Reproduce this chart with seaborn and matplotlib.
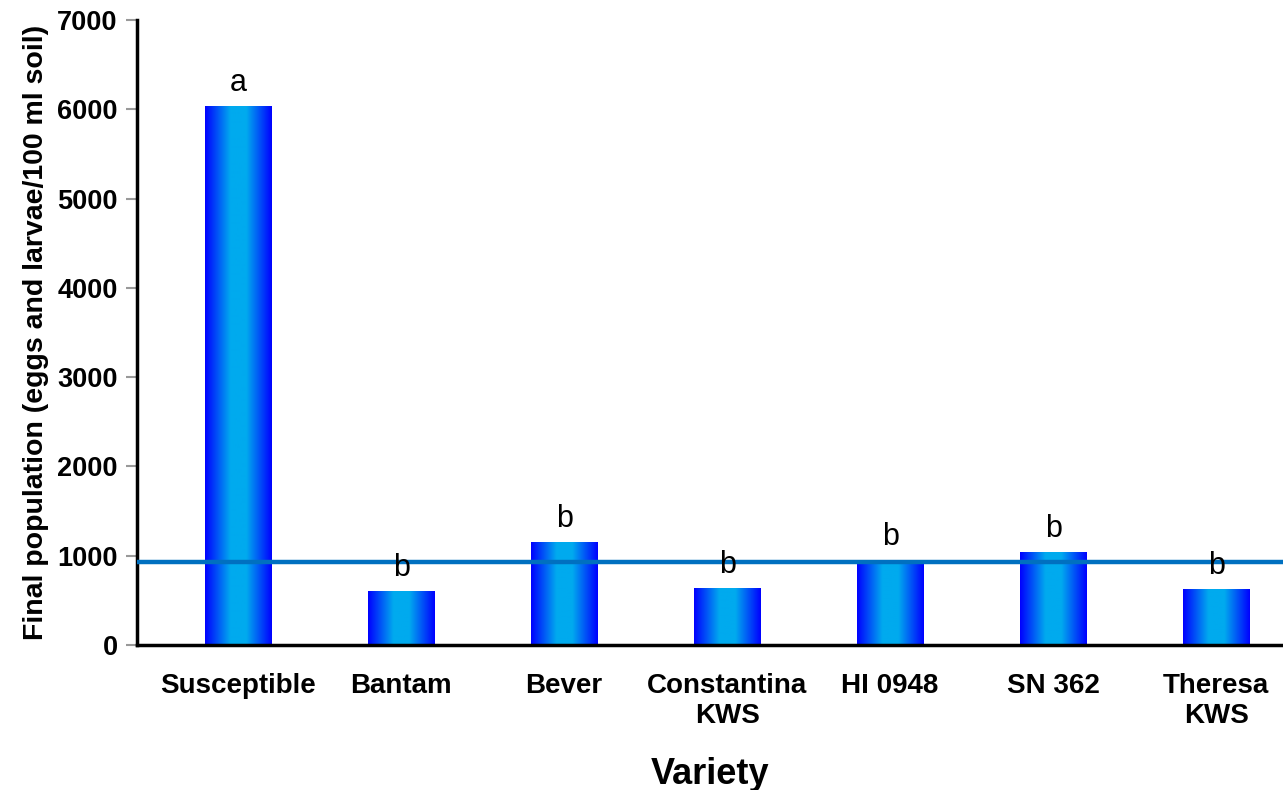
import matplotlib
matplotlib.use("Agg")
import matplotlib.pyplot as plt
from matplotlib.colors import LinearSegmentedColormap
import numpy as np
import pandas as pd
import seaborn as sns

varieties = ["Susceptible", "Bantam", "Bever", "Constantina\nKWS", "HI 0948", "SN 362", "Theresa\nKWS"]
final_pop = [6040, 605, 1150, 635, 950, 1040, 625]
letters = ["a", "b", "b", "b", "b", "b", "b"]
ref_level = 930

sns.set_theme(style="white")
plt.rcParams['font.family'] = ['Liberation Sans', 'DejaVu Sans']
plt.rcParams['text.color'] = 'black'
plt.rcParams['axes.labelcolor'] = 'black'
plt.rcParams['xtick.color'] = 'black'
plt.rcParams['ytick.color'] = 'black'

df = pd.DataFrame({"variety": varieties, "pop": final_pop})

fig = plt.figure(figsize=(12.83, 7.90), dpi=100)
ax = fig.add_axes([0.1068, 0.1835, 0.8932, 0.7912])

sns.barplot(data=df, x="variety", y="pop", ax=ax, width=0.41, color="#0000ff",
            edgecolor="none", linewidth=0)

# gradient fill: blue edges, cyan centre
cmap = LinearSegmentedColormap.from_list(
    "bar", [(0.0, "#0000ff"), (0.38, "#00aaee"), (0.62, "#00aaee"), (1.0, "#0000ff")])
grad = np.linspace(0, 1, 256).reshape(1, -1)
for bar in ax.patches:
    x0, y0 = bar.get_x(), bar.get_y()
    w, h = bar.get_width(), bar.get_height()
    im = ax.imshow(grad, cmap=cmap, aspect="auto", extent=[x0, x0 + w, y0, y0 + h],
                   zorder=bar.get_zorder() + 0.1, interpolation="bilinear")
    im.set_clip_path(bar)

ax.axhline(ref_level, color="#0070c0", lw=3.2, zorder=5)

for i, (v, l) in enumerate(zip(final_pop, letters)):
    ax.text(i, v + 170, l, ha="center", va="baseline", fontsize=22, color="black", zorder=6)

ax.set_xlim(-0.62, 6.41)
ax.set_ylim(0, 7000)
ax.set_yticks(range(0, 7001, 1000))

for s in ["top", "right"]:
    ax.spines[s].set_visible(False)
for s in ["left", "bottom"]:
    ax.spines[s].set_color("black")
    ax.spines[s].set_linewidth(2.5)

ax.tick_params(axis="y", which="major", left=True, length=8, width=1.5, color="#999999",
               labelsize=19.5, pad=6, labelcolor="black")
ax.tick_params(axis="x", bottom=False, labelsize=20, pad=14, labelcolor="black")
for t in ax.get_xticklabels() + ax.get_yticklabels():
    t.set_fontweight("bold")

ax.set_xlabel("Variety", fontsize=26, fontweight="bold", labelpad=20)
ax.set_ylabel("Final population (eggs and larvae/100 ml soil)", fontsize=20.5,
              fontweight="bold", labelpad=6)

fig.savefig("out.png", dpi=100)
